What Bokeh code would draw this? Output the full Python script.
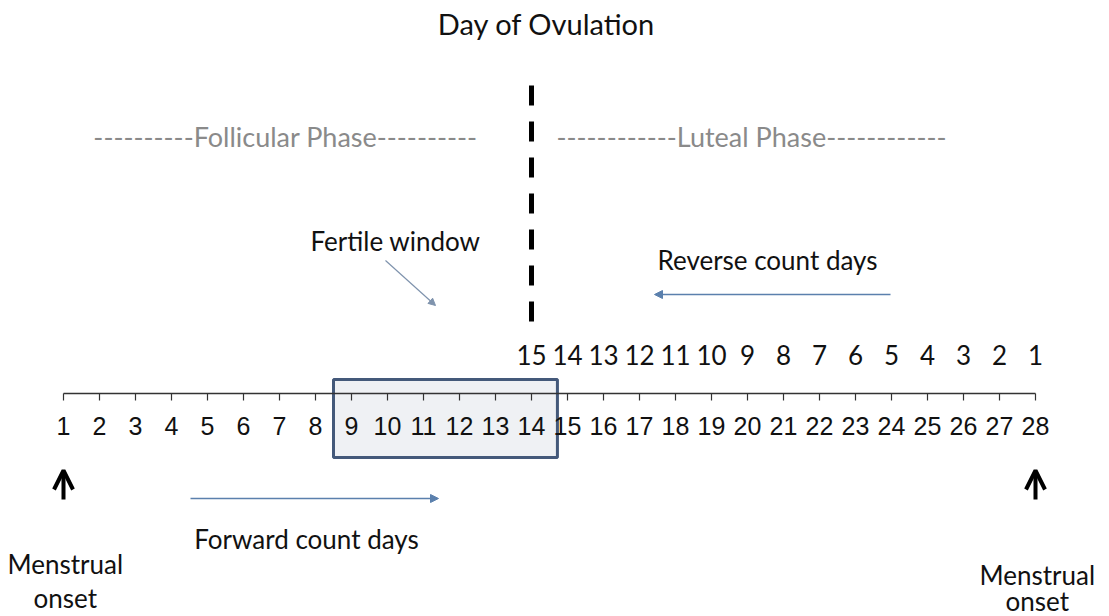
from bokeh.plotting import figure
from bokeh.models import Range1d, Arrow, OpenHead, NormalHead
from bokeh.embed import file_html
from bokeh.resources import INLINE
from bokeh.core.properties import value

# ---------------- data ----------------
days = list(range(1, 29))                      # forward count days on the timeline
reverse_days = list(range(14, 29))             # days that carry a reverse count label
reverse_labels = [15, 14, 13, 12, 11, 10, 9, 8, 7, 6, 5, 4, 3, 2, 1]
ovulation_day = 14
fertile_days = [9, 10, 11, 12, 13, 14]
phase_labels = ["----------Follicular Phase----------", "------------Luteal Phase------------"]
title_text = "Day of Ovulation"

# ---------------- layout (page pixels -> day units) ----------------
X0, DX = 63.0, 36.0          # page x of day 1, pixel spacing per day
def dx(px):                   # page x pixel -> day coordinate
    return (px - X0) / DX + 1

W, H = 1109, 616
AXIS_Y = 393
TICK_LEN = 7
LABEL_Y = 425
REV_Y = 354
SANS = value("Lato")
NUM = value("Liberation Sans")

p = figure(width=W, height=H, output_backend="svg", toolbar_location=None,
           x_range=Range1d(dx(0), dx(W)), y_range=Range1d(H, 0),
           min_border=0)
p.axis.visible = False
p.grid.visible = False
p.outline_line_color = None
p.background_fill_color = "white"
p.border_fill_color = "white"

# fertile window box
p.quad(left=[fertile_days[0] - 0.5], right=[fertile_days[-1] + 0.72],
       top=[379], bottom=[457], fill_color="#eff1f4",
       line_color="#44597a", line_width=3)

# timeline axis and ticks
p.segment(x0=[days[0]], x1=[days[-1]], y0=[AXIS_Y], y1=[AXIS_Y],
          line_color="#333333", line_width=1.5)
p.segment(x0=days, x1=days, y0=[AXIS_Y] * len(days), y1=[AXIS_Y + TICK_LEN] * len(days),
          line_color="#333333", line_width=1.2)

# forward labels
p.text(x=days, y=[LABEL_Y] * len(days), text=[str(d) for d in days],
       text_font=NUM, text_font_size="25px", text_align="center",
       text_baseline="middle", text_color="#111111")

# reverse labels
p.text(x=reverse_days, y=[REV_Y] * len(reverse_days), text=[str(r) for r in reverse_labels],
       text_font=SANS, text_font_size="26px", text_align="center",
       text_baseline="middle", text_color="#111111")

# ovulation dashed line
p.segment(x0=[ovulation_day], x1=[ovulation_day], y0=[85], y1=[324],
          line_color="black", line_width=5, line_dash="20 16")

# title
p.text(x=[ovulation_day + 0.42], y=[23], text=[title_text], text_font=SANS,
       text_font_size="29px", text_align="center", text_baseline="middle",
       text_color="#111111")

# phase labels
p.text(x=[dx(285), dx(751)], y=[136, 136], text=phase_labels, text_font=SANS,
       text_font_size="27px", text_align="center", text_baseline="middle",
       text_color="#8a8a8a")

# fertile window label + pointer
p.text(x=[dx(395)], y=[240], text=["Fertile window"], text_font=SANS,
       text_font_size="26px", text_align="center", text_baseline="middle",
       text_color="#111111")
p.add_layout(Arrow(end=NormalHead(size=7, fill_color="#7f93ad", line_color="#7f93ad"),
                   x_start=dx(385), y_start=260, x_end=dx(435), y_end=305,
                   line_color="#7f93ad", line_width=1.2))

# reverse count arrow + label
p.text(x=[dx(767)], y=[259], text=["Reverse count days"], text_font=SANS,
       text_font_size="26px", text_align="center", text_baseline="middle",
       text_color="#111111")
p.add_layout(Arrow(end=NormalHead(size=8, fill_color="#5b80ad", line_color="#5b80ad"),
                   x_start=dx(890), y_start=294, x_end=dx(654), y_end=294,
                   line_color="#5b80ad", line_width=1.5))

# forward count arrow + label
p.add_layout(Arrow(end=NormalHead(size=8, fill_color="#5b80ad", line_color="#5b80ad"),
                   x_start=dx(190), y_start=498, x_end=dx(438), y_end=498,
                   line_color="#5b80ad", line_width=1.5))
p.text(x=[dx(306)], y=[538], text=["Forward count days"], text_font=SANS,
       text_font_size="26px", text_align="center", text_baseline="middle",
       text_color="#111111")

# menstrual onset arrows + labels
for d, y1, y2 in [(days[0], 563, 597), (days[-1], 574, 600)]:
    p.add_layout(Arrow(end=OpenHead(size=19, line_width=4, line_color="black"),
                       x_start=d, y_start=499, x_end=d, y_end=470,
                       line_color="black", line_width=4))
    p.text(x=[d + 0.05, d + 0.05], y=[y1, y2], text=["Menstrual", "onset"], text_font=SANS,
           text_font_size="26px", text_align="center", text_baseline="middle",
           text_color="#111111")

open("out.html", "w").write(file_html(p, INLINE))
